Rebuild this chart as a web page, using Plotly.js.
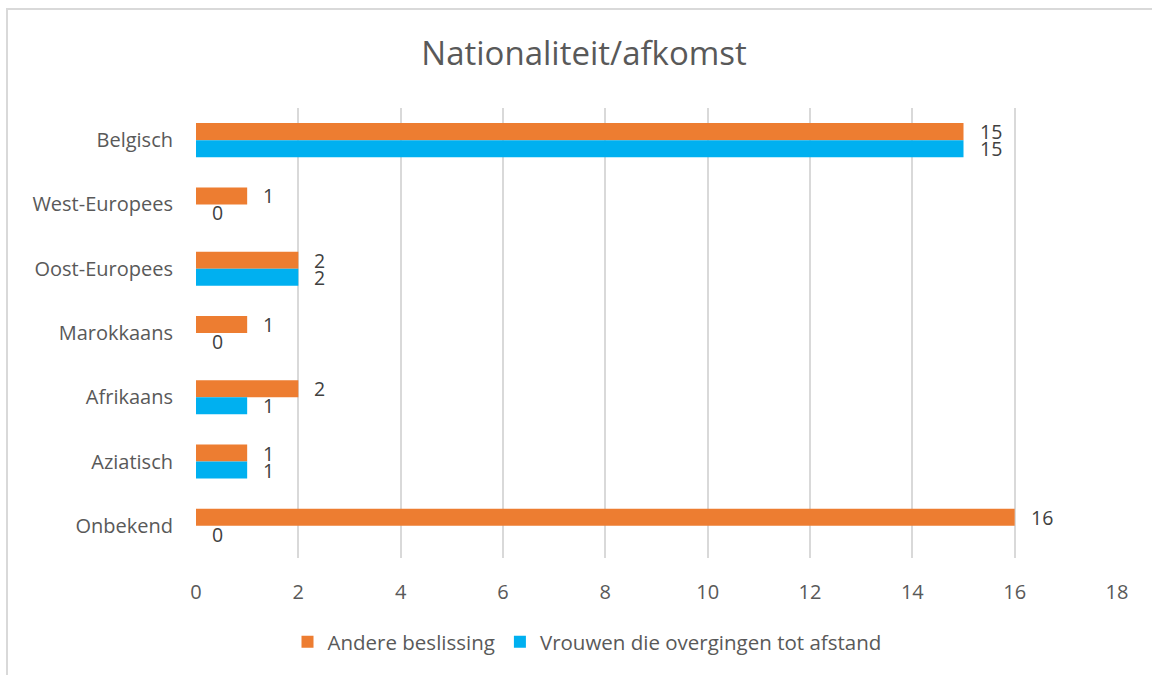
<!DOCTYPE html>
<html><head><meta charset="utf-8">
<script src="https://cdn.plot.ly/plotly-3.0.1.min.js"></script>
<style>
html,body{margin:0;padding:0;background:#fff;overflow:hidden;}
#frame{position:absolute;left:6px;top:8px;width:1160px;height:680px;border:2px solid #d9d9d9;box-sizing:border-box;pointer-events:none;z-index:5;}
#chart{position:absolute;left:0;top:0;width:1152px;height:675px;}
</style></head>
<body>
<div id="chart"></div><div id="frame"></div>
<script>
const categories = ["Belgisch","West-Europees","Oost-Europees","Marokkaans","Afrikaans","Aziatisch","Onbekend"];
const andereBeslissing = [15,1,2,1,2,1,16];
const vrouwenAfstand = [15,0,2,0,1,1,0];
const seriesNames = ["Andere beslissing","Vrouwen die overgingen tot afstand"];
const xTicks = [0,2,4,6,8,10,12,14,16,18];

const fontFam = "'Open Sans', 'Noto Sans', sans-serif";
const txtColor = "#595959";

const traces = [
  {type:"bar", orientation:"h", name:seriesNames[0], y:categories, x:andereBeslissing,
   marker:{color:"#ED7D31"}, hoverinfo:"x+name"},
  {type:"bar", orientation:"h", name:seriesNames[1], y:categories, x:vrouwenAfstand,
   marker:{color:"#00B0F0"}, hoverinfo:"x+name"}
];

const annotations = [];
categories.forEach((c,i)=>{
  annotations.push({x:andereBeslissing[i], y:c, text:String(andereBeslissing[i]), showarrow:false,
    xanchor:"left", yanchor:"middle", xshift:14, yshift:8.5, font:{size:19.5,color:"#404040",family:fontFam}});
  annotations.push({x:vrouwenAfstand[i], y:c, text:String(vrouwenAfstand[i]), showarrow:false,
    xanchor:"left", yanchor:"middle", xshift:14, yshift:-8.5, font:{size:19.5,color:"#404040",family:fontFam}});
});

const layout = {
  width:1152, height:675,
  margin:{l:196, r:35, t:108, b:117, autoexpand:false},
  paper_bgcolor:"#fff", plot_bgcolor:"#fff",
  font:{family:fontFam, color:txtColor, size:20},
  title:{text:"Nationaliteit/afkomst", font:{size:33, color:txtColor, family:fontFam},
         x:0.507, xanchor:"center", y:1-53/675, yanchor:"middle"},
  barmode:"group", bargap:0.47, bargroupgap:0,
  xaxis:{range:[0,18], tickvals:xTicks, showgrid:true, gridcolor:"#d9d9d9", gridwidth:2,
         zeroline:false, showline:false, ticks:"", ticklabelstandoff:20, automargin:false,
         tickfont:{size:20, color:txtColor}, fixedrange:true},
  yaxis:{autorange:"reversed", type:"category", showgrid:false, zeroline:false, showline:false, automargin:false,
         ticks:"", ticklabelstandoff:22, tickfont:{size:20, color:txtColor}, fixedrange:true},
  showlegend:true,
  legend:{orientation:"h", x:(587-196)/921, xanchor:"center", y:-84/450, yanchor:"middle",
          font:{size:20.5, color:txtColor}, traceorder:"normal", itemwidth:30},
  annotations:annotations
};

Plotly.newPlot("chart", traces, layout, {displayModeBar:false, staticPlot:true});
</script>
</body></html>
